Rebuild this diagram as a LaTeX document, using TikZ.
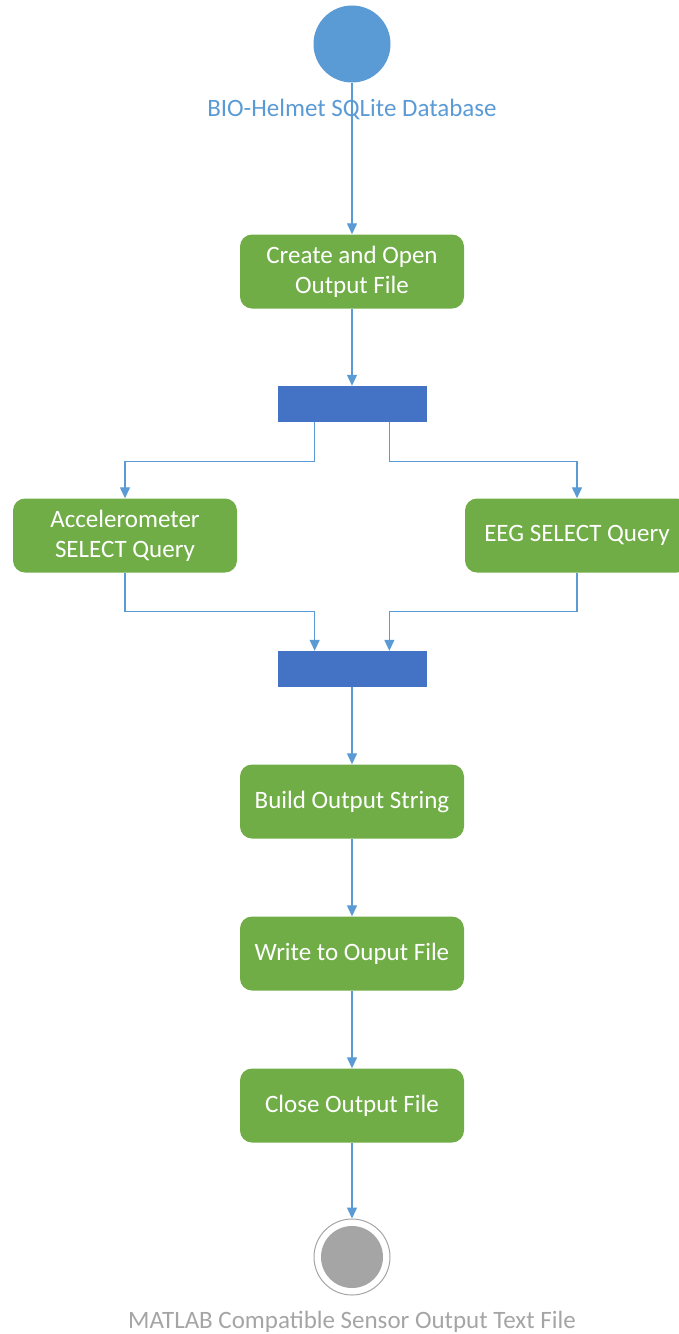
\documentclass[tikz,border=0pt]{standalone}
\usepackage{fontspec}
\setmainfont{Carlito}
\usetikzlibrary{positioning,arrows.meta,calc}
\definecolor{cStart}{HTML}{5B9BD5}
\definecolor{cAct}{HTML}{70AD47}
\definecolor{cBar}{HTML}{4472C4}
\definecolor{cEnd}{HTML}{A5A5A5}
\definecolor{cFlow}{HTML}{5B9BD5}

\begin{document}
\begin{tikzpicture}[
  x=1pt,y=-1pt,
  font=\fontsize{25}{30}\selectfont,
  >={Triangle[length=11pt,width=10pt]},
  act/.style   ={rounded corners=12pt,fill=cAct,text=white,align=center,
                 minimum width=224pt,minimum height=74pt,inner sep=2pt},
  bar/.style   ={fill=cBar,minimum width=149pt,minimum height=36pt,inner sep=0pt},
  initial/.style={circle,fill=cStart,minimum size=77pt,inner sep=0pt},
  final/.style ={circle,draw=cEnd,fill=white,line width=1pt,minimum size=76pt,inner sep=0pt},
  finaldot/.style={circle,fill=cEnd,minimum size=62pt,inner sep=0pt},
  flow/.style  ={->,cFlow,line width=1.3pt},
  lab/.style   ={inner sep=0pt},
]
\useasboundingbox (0,0) rectangle (678,1334);

% =====================================================================
% START
% =====================================================================
\node[initial] (start) at (352,44) {};
\node[lab,text=cStart] (startlab) at (352,109) {BIO-Helmet SQLite Database};

\node[act] (create) at (352,271.5) {Create and Open\\Output File};
\draw[flow] (start.south) -- (create.north);

% =====================================================================
% FORK: the two SELECT queries
% =====================================================================
\node[bar] (fork) at (352,404) {};
\draw[flow] (create.south) -- (fork.north);

\node[act] (accel) at (125,535.5) {Accelerometer\\SELECT Query};
\node[act] (eeg)   at (577,535.5) {EEG SELECT Query};

\coordinate (forkL) at ($(fork.south west)!0.25!(fork.south east)$);
\coordinate (forkR) at ($(fork.south west)!0.75!(fork.south east)$);
\draw[flow] (forkL) -- ++(0,39) -| (accel.north);
\draw[flow] (forkR) -- ++(0,39) -| (eeg.north);

% =====================================================================
% JOIN
% =====================================================================
\node[bar] (join) at (352,669) {};
\coordinate (joinL) at ($(join.north west)!0.25!(join.north east)$);
\coordinate (joinR) at ($(join.north west)!0.75!(join.north east)$);
\draw[flow] (accel.south) -- ++(0,39) -| (joinL);
\draw[flow] (eeg.south)   -- ++(0,39) -| (joinR);

% =====================================================================
% OUTPUT
% =====================================================================
\node[act] (build) at (352,801.5)  {Build Output String};
\node[act] (write) at (352,953.5)  {Write to Ouput File};
\node[act] (close) at (352,1105.5) {Close Output File};
\draw[flow] (join.south) -- (build.north);
\draw[flow] (build.south) -- (write.north);
\draw[flow] (write.south) -- (close.north);

% =====================================================================
% END
% =====================================================================
\node[final] (stop) at (352,1257) {};
\node[finaldot] (stopdot) at (stop.center) {};
\draw[flow] (close.south) -- (stop.north);
\node[lab,text=cEnd] (stoplab) at (352,1322) {MATLAB Compatible Sensor Output Text File};

\end{tikzpicture}
\end{document}
